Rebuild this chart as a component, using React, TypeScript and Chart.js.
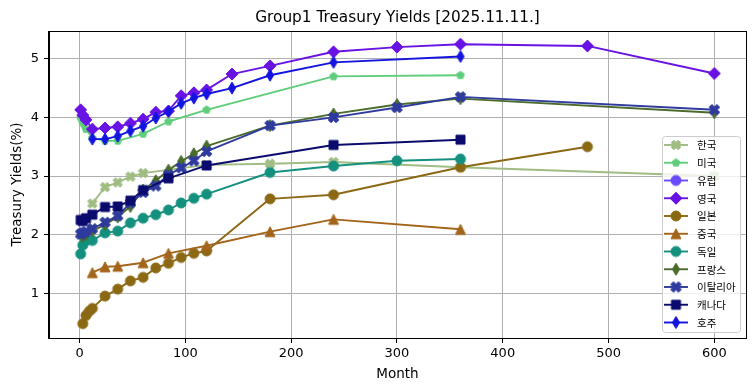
import React, { useEffect, useRef } from 'react';
import { Chart, registerables } from 'chart.js';

Chart.register(...registerables);

// ---------- text ----------
const chartTitle = 'Group1 Treasury Yields [2025.11.11.]';
const xAxisLabel = 'Month';
const yAxisLabel = 'Treasury Yields(%)';
const xTickValues = [0, 100, 200, 300, 400, 500, 600];
const yTickValues = [1, 2, 3, 4, 5];

const seriesNames = ['한국', '미국', '유럽', '영국', '일본', '중국', '독일', '프랑스', '이탈리아', '캐나다', '호주'];

// ---------- data (months to maturity, yield %) ----------
const koreaMonths = [12, 24, 36, 48, 60, 120, 180, 240, 360, 600];
const koreaYields = [2.53, 2.81, 2.89, 2.99, 3.05, 3.19, 3.21, 3.24, 3.15, 3.0];

const usMonths = [1, 2, 3, 4, 6, 12, 24, 36, 60, 84, 120, 240, 360];
const usYields = [4.0, 3.97, 3.92, 3.88, 3.8, 3.65, 3.6, 3.6, 3.72, 3.93, 4.13, 4.7, 4.72];

const europeMonths: number[] = [];
const europeYields: number[] = [];

const ukMonths = [1, 3, 6, 12, 24, 36, 48, 60, 72, 84, 96, 108, 120, 144, 180, 240, 300, 360, 480, 600];
const ukYields = [4.13, 4.04, 3.96, 3.8, 3.82, 3.84, 3.9, 3.97, 4.09, 4.11, 4.37, 4.42, 4.47, 4.74, 4.88, 5.12, 5.2, 5.25, 5.22, 4.75];

const japanMonths = [3, 6, 9, 12, 24, 36, 48, 60, 72, 84, 96, 108, 120, 180, 240, 360, 480];
const japanYields = [0.48, 0.62, 0.69, 0.74, 0.95, 1.07, 1.21, 1.27, 1.43, 1.51, 1.61, 1.68, 1.72, 2.61, 2.68, 3.15, 3.5];

const chinaMonths = [12, 24, 36, 60, 84, 120, 180, 240, 360];
const chinaYields = [1.35, 1.45, 1.46, 1.52, 1.68, 1.81, 2.05, 2.26, 2.09];

const germanyMonths = [1, 3, 6, 12, 24, 36, 48, 60, 72, 84, 96, 108, 120, 180, 240, 300, 360];
const germanyYields = [1.67, 1.82, 1.9, 1.9, 2.03, 2.06, 2.2, 2.28, 2.34, 2.42, 2.54, 2.62, 2.69, 3.06, 3.17, 3.26, 3.29];

const franceMonths = [1, 3, 6, 12, 24, 36, 48, 60, 72, 84, 96, 108, 120, 180, 240, 300, 360, 600];
const franceYields = [2.0, 1.97, 2.0, 2.06, 2.17, 2.3, 2.48, 2.76, 2.92, 3.1, 3.25, 3.38, 3.51, 3.86, 4.06, 4.22, 4.32, 4.08];

const italyMonths = [1, 3, 6, 12, 24, 36, 48, 60, 72, 84, 96, 108, 120, 180, 240, 300, 360, 600];
const italyYields = [2.01, 2.03, 2.05, 2.1, 2.21, 2.32, 2.54, 2.72, 2.83, 3.02, 3.14, 3.26, 3.42, 3.86, 4.0, 4.17, 4.35, 4.13];

const canadaMonths = [1, 3, 6, 12, 24, 36, 48, 60, 84, 120, 240, 360];
const canadaYields = [2.25, 2.23, 2.28, 2.34, 2.47, 2.48, 2.58, 2.76, 2.96, 3.18, 3.53, 3.62];

const australiaMonths = [12, 24, 36, 48, 60, 72, 84, 96, 108, 120, 144, 180, 240, 360];
const australiaYields = [3.63, 3.63, 3.68, 3.77, 3.85, 3.99, 4.1, 4.24, 4.33, 4.4, 4.5, 4.72, 4.94, 5.04];

const seriesMonths = [koreaMonths, usMonths, europeMonths, ukMonths, japanMonths, chinaMonths, germanyMonths, franceMonths, italyMonths, canadaMonths, australiaMonths];
const seriesYields = [koreaYields, usYields, europeYields, ukYields, japanYields, chinaYields, germanyYields, franceYields, italyYields, canadaYields, australiaYields];

// ---------- styles ----------
const seriesColors = ['#9fbc82', '#5fcd7a', '#6b4bff', '#6812e4', '#8b6914', '#a2651b', '#14907f', '#4a6b2c', '#2f3a9e', '#0b0b6e', '#1414e0'];
const seriesShapes = ['xfill', 'pentagon', 'circle', 'diamond', 'circle', 'triangle', 'circle', 'thinDiamond', 'xfill', 'square', 'thinDiamond'];
const seriesMarkerSizes = [10, 8, 10, 12, 10, 10, 10, 12, 11, 9, 12];

function traceMarker(ctx: CanvasRenderingContext2D, shape: string, size: number) {
  const r = size / 2;
  ctx.beginPath();
  if (shape === 'circle') {
    ctx.arc(0, 0, r, 0, Math.PI * 2);
  } else if (shape === 'square') {
    ctx.rect(-r, -r, size, size);
  } else if (shape === 'diamond') {
    ctx.moveTo(0, -r); ctx.lineTo(r, 0); ctx.lineTo(0, r); ctx.lineTo(-r, 0); ctx.closePath();
  } else if (shape === 'thinDiamond') {
    ctx.moveTo(0, -r); ctx.lineTo(r * 0.6, 0); ctx.lineTo(0, r); ctx.lineTo(-r * 0.6, 0); ctx.closePath();
  } else if (shape === 'triangle') {
    ctx.moveTo(0, -r); ctx.lineTo(r, r); ctx.lineTo(-r, r); ctx.closePath();
  } else if (shape === 'pentagon') {
    for (let k = 0; k < 5; k++) {
      const a = -Math.PI / 2 + (k * 2 * Math.PI) / 5;
      const px = r * Math.cos(a), py = r * Math.sin(a);
      if (k === 0) ctx.moveTo(px, py); else ctx.lineTo(px, py);
    }
    ctx.closePath();
  } else if (shape === 'xfill') {
    const w = r * 0.36;
    const pts = [[-w, -r], [w, -r], [w, -w], [r, -w], [r, w], [w, w], [w, r], [-w, r], [-w, w], [-r, w], [-r, -w], [-w, -w]];
    const c = Math.SQRT1_2;
    pts.forEach(([px, py], k) => {
      const rx = (px - py) * c, ry = (px + py) * c;
      if (k === 0) ctx.moveTo(rx, ry); else ctx.lineTo(rx, ry);
    });
    ctx.closePath();
  }
}

function makeMarker(shape: string, size: number, color: string): HTMLCanvasElement {
  const dim = Math.ceil(size + 4);
  const cv = document.createElement('canvas');
  cv.width = dim;
  cv.height = dim;
  const ctx = cv.getContext('2d')!;
  ctx.translate(dim / 2, dim / 2);
  traceMarker(ctx, shape, size);
  ctx.fillStyle = color;
  ctx.fill();
  ctx.lineWidth = 1;
  ctx.strokeStyle = color;
  ctx.stroke();
  return cv;
}

const LINE_W = 1.9;

export default function App() {
  const ref = useRef<HTMLCanvasElement | null>(null);

  useEffect(() => {
    document.body.style.margin = '0';
    const canvas = ref.current;
    if (!canvas) return;

    const markers = seriesNames.map((_, i) => makeMarker(seriesShapes[i], seriesMarkerSizes[i], seriesColors[i]));

    const datasets = seriesNames.map((name, i) => ({
      label: name,
      data: seriesMonths[i].map((m, k) => ({ x: m, y: seriesYields[i][k] })),
      borderColor: seriesColors[i],
      backgroundColor: seriesColors[i],
      borderWidth: LINE_W,
      borderJoinStyle: 'round' as const,
      pointStyle: markers[i] as any,
      pointRadius: 5,
      pointHoverRadius: 5,
      tension: 0,
      order: 10 - i,
    }));

    const framePlugin = {
      id: 'frameAndLegend',
      afterDraw(chart: any) {
        const { ctx, chartArea } = chart;
        ctx.save();
        // axes frame
        ctx.strokeStyle = '#000';
        ctx.lineWidth = 1;
        ctx.strokeRect(Math.round(chartArea.left) - 0.5, Math.round(chartArea.top) + 0.5,
          Math.round(chartArea.right - chartArea.left) + 1, Math.round(chartArea.bottom - chartArea.top));
        // title
        ctx.fillStyle = '#000';
        ctx.font = '15.3px "DejaVu Sans"';
        ctx.textAlign = 'center';
        ctx.textBaseline = 'alphabetic';
        ctx.fillText(chartTitle, (chartArea.left + chartArea.right) / 2, 21.5);
        // legend
        const bx = 662, by = 136, bw = 78, bh = 196;
        ctx.beginPath();
        ctx.roundRect(bx + 0.5, by + 0.5, bw, bh, 3);
        ctx.fillStyle = 'rgba(255,255,255,0.8)';
        ctx.fill();
        ctx.strokeStyle = '#cccccc';
        ctx.lineWidth = 1;
        ctx.stroke();
        const rowH = 17.75;
        seriesNames.forEach((name, i) => {
          const yy = by + 9 + i * rowH;
          ctx.beginPath();
          ctx.moveTo(664, yy);
          ctx.lineTo(688, yy);
          ctx.strokeStyle = seriesColors[i];
          ctx.lineWidth = LINE_W;
          ctx.stroke();
          const mk = markers[i];
          ctx.drawImage(mk, 676 - mk.width / 2, yy - mk.height / 2);
          ctx.fillStyle = '#000';
          ctx.font = '10.5px "Noto Sans CJK KR"';
          ctx.textAlign = 'left';
          ctx.textBaseline = 'middle';
          ctx.fillText(name, 697, yy + 0.5);
        });
        ctx.restore();
      },
    };

    const tickFont = { family: '"DejaVu Sans"', size: 13 };
    const labelFont = { family: '"DejaVu Sans"', size: 13.5 };

    const chart = new Chart(canvas, {
      type: 'line',
      data: { datasets: datasets as any },
      options: {
        responsive: false,
        animation: false,
        devicePixelRatio: 1,
        layout: { padding: { left: 0, right: 9, top: 31, bottom: 0 } },
        plugins: {
          legend: { display: false },
          tooltip: { enabled: false },
          title: { display: false },
        },
        scales: {
          x: {
            type: 'linear',
            min: -28.95,
            max: 629.95,
            afterFit: (s: any) => { s.height = 53; },
            afterBuildTicks: (s: any) => { s.ticks = xTickValues.map((v) => ({ value: v })); },
            ticks: { font: tickFont, color: '#000', padding: 2.5, includeBounds: false, maxRotation: 0, autoSkip: false },
            grid: { color: '#b0b0b0', lineWidth: 1, tickColor: '#000', tickLength: 5, drawTicks: true },
            border: { display: true, color: '#000', width: 1 },
            title: { display: true, text: xAxisLabel, font: labelFont, color: '#000', padding: { top: 0, bottom: 8.9 } },
          },
          y: {
            type: 'linear',
            min: 0.235,
            max: 5.475,
            afterFit: (s: any) => { s.width = 49; },
            afterBuildTicks: (s: any) => { s.ticks = yTickValues.map((v) => ({ value: v })); },
            ticks: { font: tickFont, color: '#000', padding: 5, includeBounds: false, autoSkip: false },
            grid: { color: '#b0b0b0', lineWidth: 1, tickColor: '#000', tickLength: 5, drawTicks: true },
            border: { display: true, color: '#000', width: 1 },
            title: { display: true, text: yAxisLabel, font: labelFont, color: '#000', padding: { top: 9.4, bottom: 0 } },
          },
        },
      },
      plugins: [framePlugin],
    });

    return () => chart.destroy();
  }, []);

  return (
    <div style={{ width: 755, height: 391, background: '#fff' }}>
      <canvas ref={ref} width={755} height={391} style={{ display: 'block' }} />
    </div>
  );
}
